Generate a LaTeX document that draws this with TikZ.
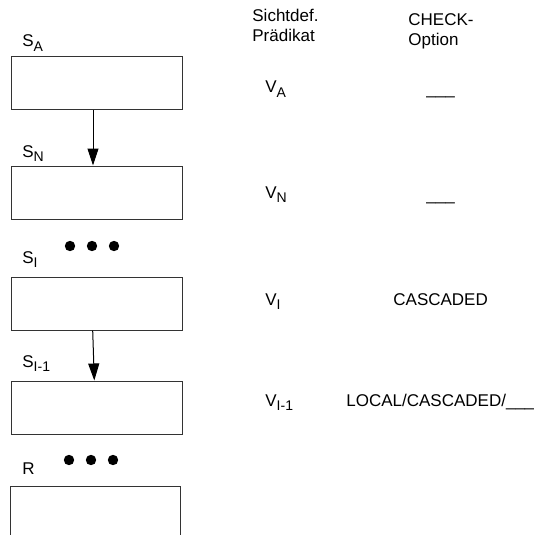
\documentclass[tikz,border=0pt]{standalone}
\usepackage{fontspec}
\setmainfont{Liberation Sans}
\usetikzlibrary{positioning,arrows.meta}
\newcommand{\idx}[1]{\raisebox{-2pt}{\fontsize{7}{7}\selectfont #1}}

\begin{document}
\begin{tikzpicture}[x=0.5pt,y=-0.5pt, >={Triangle[length=8.5pt,width=5.5pt]}, every node/.style={font=\fontsize{8.5}{10}\selectfont, inner sep=0pt}]
\tikzset{viewbox/.style={draw=black!80, line width=0.5pt, minimum width=85.5pt, minimum height=26.5pt},
  lbl/.style={anchor=base west},
  hdr/.style={anchor=base west, align=left},
  dot/.style={fill=black}}
\useasboundingbox (0,0) rectangle (534,535);

% Sichten
\node[viewbox] (SA) at (96.5,83.5) {};
\node[viewbox] (SN) [below=27.5pt of SA] {};
\node[viewbox] (SI) [below=28.5pt of SN] {};
\node[viewbox] (SI1) [below=25pt of SI] {};
\draw[black!80, line width=0.5pt] (10,535) -- (10,486) -- (180,486) -- (180,535);

\node[lbl] (lSA) at (22,47) {S\idx{A}};
\node[lbl] (lSN) at (22,157) {S\idx{N}};
\node[lbl] (lSI) at (22,263) {S\idx{I}};
\node[lbl] (lSI1) at (22,367) {S\idx{I-1}};
\node[lbl] (lR) at (22,474) {R};

\foreach \x in {70,92,114} \fill[dot] (\x,246) circle (2.6pt);
\foreach \x in {69,91,113} \fill[dot] (\x,460) circle (2.6pt);

\draw[->, line width=0.5pt] ([xshift=-1.75pt]SA.south) -- ([xshift=-1.75pt]SN.north);
\draw[->, line width=0.5pt] ([xshift=-1.9pt]SI.south) -- ([xshift=-1.1pt]SI1.north);

% Spalten
\node[hdr] (hpred) at (252,42) {Sichtdef.\\Prädikat};
\node[hdr] (hcheck) at (408,46) {CHECK-\\Option};

\node[lbl] (vA) at (265,93) {V\idx{A}};
\node[lbl] (cA) at (426,95) {\_\_\_};
\node[lbl] (vN) at (265,198) {V\idx{N}};
\node[lbl] (cN) at (426,200) {\_\_\_};
\node[lbl] (vI) at (265,305) {V\idx{I}};
\node[lbl] (cI) at (393,305) {CASCADED};
\node[lbl] (vI1) at (265,406) {V\idx{I-1}};
\node[lbl] (cI1) at (346,406) {LOCAL/CASCADED/\_\_\_};
\end{tikzpicture}
\end{document}
